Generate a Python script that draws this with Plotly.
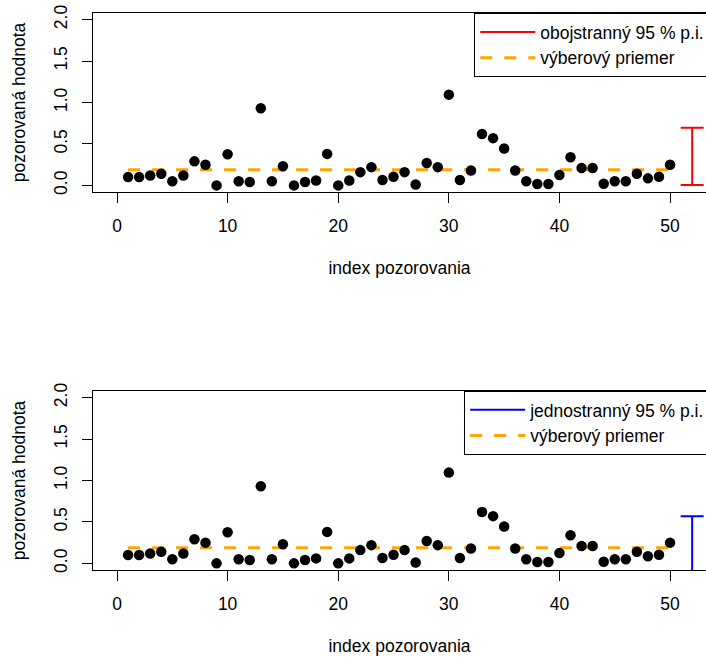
import plotly.graph_objects as go

# ---- data ----
index = list(range(1, 51))
values = [0.10, 0.10, 0.12, 0.14, 0.05, 0.12, 0.29, 0.25, 0.00, 0.375,
          0.05, 0.04, 0.93, 0.05, 0.23, 0.00, 0.04, 0.06, 0.38, 0.00,
          0.06, 0.16, 0.22, 0.065, 0.105, 0.16, 0.01, 0.27, 0.22, 1.095,
          0.065, 0.18, 0.62, 0.57, 0.445, 0.18, 0.05, 0.016, 0.016, 0.125,
          0.34, 0.21, 0.21, 0.02, 0.05, 0.05, 0.14, 0.085, 0.105, 0.25]
pi_x = [52, 52]
two_sided_pi = [0.005, 0.695]          # lower, upper
one_sided_pi = [-10, 0.57]             # (-inf, upper]
x_ticks = [0, 10, 20, 30, 40, 50]
y_ticks = [0, 0.5, 1.0, 1.5, 2.0]
y_tick_labels = ["0.0", "0.5", "1.0", "1.5", "2.0"]
mean_x = [1, 50]
sample_mean = sum(values) / len(values)

FONT = "Liberation Sans, Arial, sans-serif"
FS = 17.5
BLACK = "#000000"

fig = go.Figure()

panels = [
    ("x", "y", "legend", "obojstranný 95 % p.i.", "#FF0000", two_sided_pi),
    ("x2", "y2", "legend2", "jednostranný 95 % p.i.", "#0000FF", one_sided_pi),
]
for xa, ya, lg, name, col, pi in panels:
    fig.add_trace(go.Scatter(
        x=pi_x, y=pi, xaxis=xa, yaxis=ya, mode="lines", name=name,
        legend=lg, line=dict(color=col, width=2),
        error_y=dict(type="data", array=[0, 0], visible=True, color=col,
                     thickness=2, width=11.5),
        hoverinfo="skip"))
    fig.add_trace(go.Scatter(
        x=mean_x, y=[sample_mean, sample_mean], xaxis=xa, yaxis=ya,
        mode="lines", name="výberový priemer", legend=lg,
        line=dict(color="#FFA500", width=3, dash="12px,12px")))
    fig.add_trace(go.Scatter(
        x=index, y=values, xaxis=xa, yaxis=ya, mode="markers",
        showlegend=False, marker=dict(color=BLACK, size=10.5)))

common_x = dict(range=[-2.17, 53.25], tickvals=x_ticks, ticks="outside",
                ticklen=10, tickcolor=BLACK, tickwidth=1, showline=True,
                linecolor=BLACK, linewidth=1, mirror=True, showgrid=False,
                zeroline=False, ticklabelstandoff=8,
                tickfont=dict(family=FONT, size=FS, color=BLACK),
                title=dict(text="index pozorovania", standoff=26,
                           font=dict(family=FONT, size=FS, color=BLACK)))
common_y = dict(range=[-0.08, 2.08], tickvals=y_ticks, ticktext=y_tick_labels,
                ticks="outside", ticklen=10, tickcolor=BLACK, tickwidth=1,
                showline=True, linecolor=BLACK, linewidth=1, mirror=False,
                showgrid=False, zeroline=False, tickangle=-90,
                ticklabelstandoff=8,
                tickfont=dict(family=FONT, size=FS, color=BLACK),
                title=dict(text="pozorovaná hodnota", standoff=20,
                           font=dict(family=FONT, size=FS, color=BLACK)))

fig.update_layout(
    width=706, height=658,
    margin=dict(l=93, r=0, t=13, b=88, autoexpand=False),
    paper_bgcolor="white", plot_bgcolor="white",
    font=dict(family=FONT, size=FS, color=BLACK),
    xaxis=dict(domain=[0, 1], anchor="y", **common_x),
    yaxis=dict(domain=[0.6786, 1], anchor="x", **common_y),
    xaxis2=dict(domain=[0, 1], anchor="y2", **common_x),
    yaxis2=dict(domain=[0, 0.3214], anchor="x2", **common_y),
    legend=dict(x=0.622, y=1.0, xanchor="left", yanchor="top",
                bgcolor="white", bordercolor=BLACK, borderwidth=1,
                itemwidth=55,
                font=dict(family=FONT, size=FS, color=BLACK)),
    legend2=dict(x=0.6055, y=0.3214, xanchor="left", yanchor="top",
                 bgcolor="white", bordercolor=BLACK, borderwidth=1,
                 itemwidth=55,
                 font=dict(family=FONT, size=FS, color=BLACK)),
    showlegend=True,
)

fig.write_html(
    "out.html",
    config={"displayModeBar": False},
    post_script="document.body.style.margin='0';"
                "document.body.style.overflow='hidden';"
                "document.documentElement.style.overflow='hidden';")
